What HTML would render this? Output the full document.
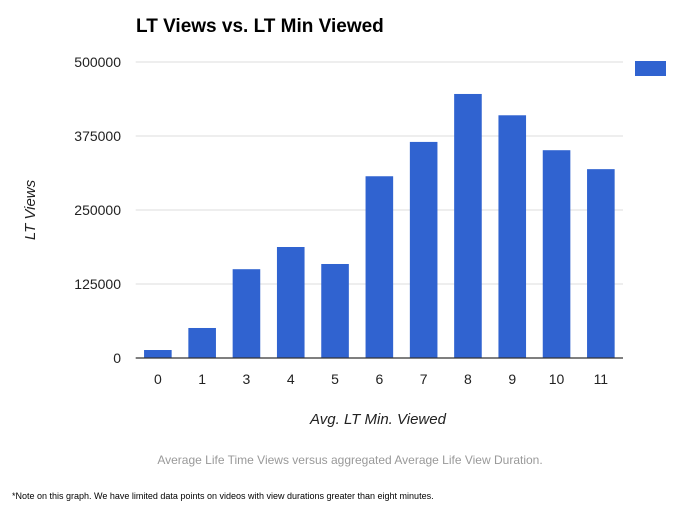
<!DOCTYPE html>
<html><head><meta charset="utf-8"><style>
body{margin:0;background:#fff;width:700px;height:512px;overflow:hidden;font-family:"Liberation Sans",sans-serif}
</style></head><body>
<svg width="700" height="512" xmlns="http://www.w3.org/2000/svg">
<text x="136" y="32" font-size="19" font-weight="bold" fill="#000">LT Views vs. LT Min Viewed</text>
<g id="grid"></g>
<g id="bars"></g>
<g id="xlabels"></g>
<rect x="635" y="61" width="31" height="15" fill="#3063d0"/>
<text x="35" y="210" font-size="15" font-style="italic" text-anchor="middle" transform="rotate(-90 35 210)" fill="#222">LT Views</text>
<text x="378" y="424" font-size="15" font-style="italic" text-anchor="middle" fill="#222">Avg. LT Min. Viewed</text>
<text x="350" y="464" font-size="12" text-anchor="middle" fill="#999">Average Life Time Views versus aggregated Average Life View Duration.</text>
<text x="12" y="499" font-size="9" fill="#000">*Note on this graph. We have limited data points on videos with view durations greater than eight minutes.</text>
</svg>
<script>
const categories=["0","1","3","4","5","6","7","8","9","10","11"];
const views=[13500,50700,150000,187500,158800,307000,365000,446000,410000,351000,319000];
const yTicks=[0,125000,250000,375000,500000];
const ns="http://www.w3.org/2000/svg";
const x0=135.7,x1=623,yTop=62,yBot=358,yMax=500000;
const step=(x1-x0)/categories.length,bw=27.6;
const y=v=>yBot-(v/yMax)*(yBot-yTop);
const xc=i=>x0+step*(i+0.5);
function mk(t,a,p){const e=document.createElementNS(ns,t);for(const k in a)e.setAttribute(k,a[k]);p.appendChild(e);return e;}
const g=document.getElementById('grid');
yTicks.forEach(t=>{
 if(t>0){const l=mk('line',{x1:x0,x2:x1,y1:y(t),y2:y(t),stroke:'#ddd','stroke-width':1},g);
 
 }
 const tx=mk('text',{x:121,y:y(t)+5,'font-size':14,'text-anchor':'end',fill:'#222'},g);
 tx.textContent=t;
 
 
});
const b=document.getElementById('bars');
views.forEach((v,i)=>{
 const r=mk('rect',{x:xc(i)-bw/2,y:y(v),width:bw,height:yBot-y(v),fill:'#3063d0'},b);
 
 
});
const ax=mk('line',{x1:x0,x2:x1,y1:yBot,y2:yBot,stroke:'#333','stroke-width':1.2},b);


const xl=document.getElementById('xlabels');
categories.forEach((c,i)=>{
 const t=mk('text',{x:xc(i),y:384,'font-size':14,'text-anchor':'middle',fill:'#222'},xl);
 t.textContent=c;
 
 
});
</script>
</body></html>
